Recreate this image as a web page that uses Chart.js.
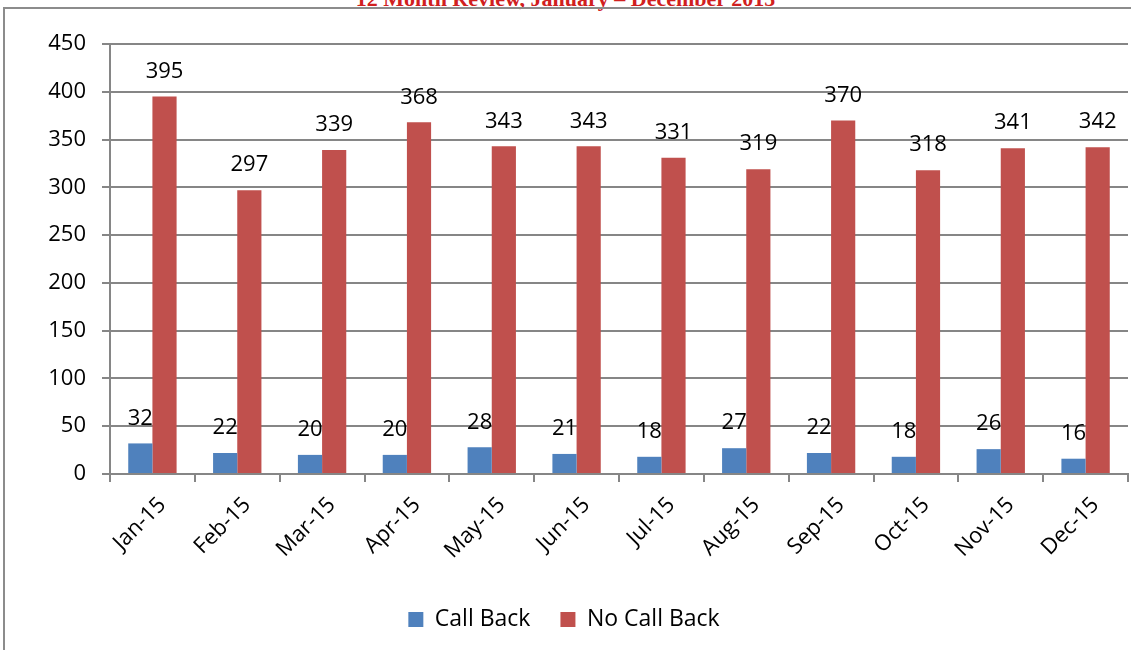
<!DOCTYPE html>
<html>
<head>
<meta charset="utf-8">
<script src="https://cdn.jsdelivr.net/npm/chart.js@4"></script>
<style>
  html, body { margin: 0; padding: 0; background: #fff; overflow: hidden; }
  #wrap { position: relative; width: 1131px; height: 650px; }
  #frame {
    position: absolute; left: 3px; top: 7px; width: 1200px; height: 700px;
    border-left: 2px solid #8c8c8c; border-top: 2px solid #8c8c8c;
  }
  #title {
    position: absolute; left: 0; width: 1131px; top: -14px; text-align: center;
    font-family: "Liberation Serif", serif; font-weight: bold; font-size: 22px; color: #d02020;
  }
  canvas { position: absolute; left: 0; top: 0; }
</style>
</head>
<body>
<div id="wrap">
  <div id="title">12 Month Review, January – December 2015</div>
  <div id="frame"></div>
  <canvas id="chart" width="1131" height="650"></canvas>
</div>
<script>
// === Chart data ===
const months = ["Jan-15", "Feb-15", "Mar-15", "Apr-15", "May-15", "Jun-15",
  "Jul-15", "Aug-15", "Sep-15", "Oct-15", "Nov-15", "Dec-15"];
const callBack = [32, 22, 20, 20, 28, 21, 18, 27, 22, 18, 26, 16];
const noCallBack = [395, 297, 339, 368, 343, 343, 331, 319, 370, 318, 341, 342];

const fontFamily = "'Open Sans', 'Noto Sans', sans-serif";

// draw the value above each bar
const valueLabels = {
  id: "valueLabels",
  afterDatasetsDraw(chart) {
    const ctx = chart.ctx;
    ctx.save();
    ctx.font = "22px " + fontFamily;
    ctx.fillStyle = "#000";
    ctx.textAlign = "center";
    ctx.textBaseline = "middle";
    chart.data.datasets.forEach((ds, i) => {
      chart.getDatasetMeta(i).data.forEach((bar, j) => {
        ctx.fillText(ds.data[j], bar.x, bar.y - 25);
      });
    });
    ctx.restore();
  },
};

new Chart(document.getElementById("chart"), {
  type: "bar",
  data: {
    labels: months,
    datasets: [
      { label: "Call Back", data: callBack, backgroundColor: "#4f81bd" },
      { label: "No Call Back", data: noCallBack, backgroundColor: "#c0504d" },
    ],
  },
  options: {
    responsive: false,
    animation: false,
    events: [],
    layout: { padding: { top: 44, right: 3, bottom: 9, left: 0 } },
    datasets: { bar: { categoryPercentage: 0.57, barPercentage: 1 } },
    plugins: {
      legend: {
        position: "bottom",
        labels: {
          font: { size: 23, family: fontFamily },
          color: "#000",
          boxWidth: 15,
          boxHeight: 15,
          padding: 30,
        },
      },
      tooltip: { enabled: false },
    },
    scales: {
      x: {
        grid: { drawOnChartArea: false, offset: true, color: "#868686", tickLength: 8, lineWidth: 2 },
        border: { color: "#868686", width: 2 },
        ticks: {
          font: { size: 22, family: fontFamily }, color: "#000",
          maxRotation: 45, minRotation: 45, padding: 10, labelOffset: 10,
        },
        afterFit(scale) { scale.height = 104; },
      },
      y: {
        min: 0,
        max: 450,
        ticks: { stepSize: 50, font: { size: 22, family: fontFamily }, color: "#000", padding: 16 },
        grid: { color: "#868686", lineWidth: 2, tickLength: 8 },
        border: { color: "#868686", width: 2 },
        afterFit(scale) { scale.width = 110; },
      },
    },
  },
  plugins: [valueLabels],
});
</script>
</body>
</html>
